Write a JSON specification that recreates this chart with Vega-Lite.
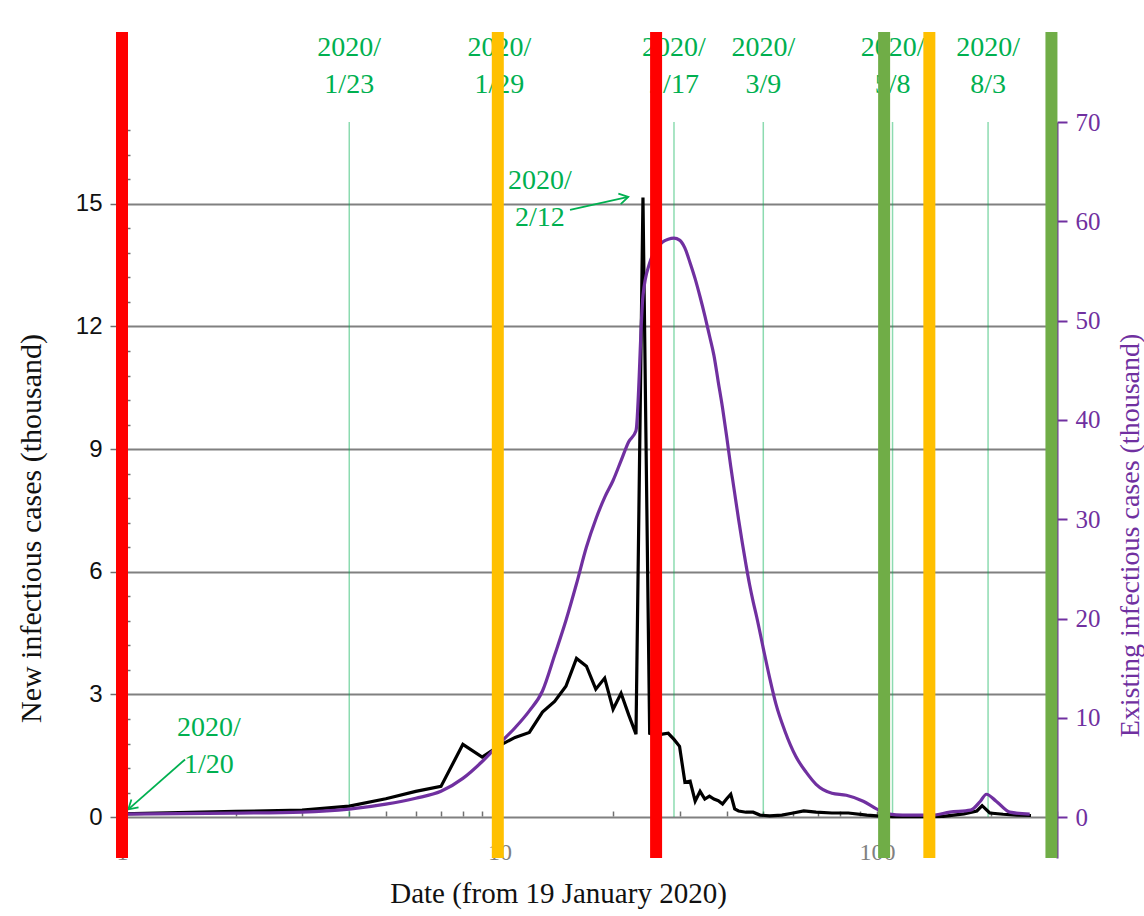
{
  "$schema": "https://vega.github.io/schema/vega-lite/v6.json",
  "width": 935,
  "height": 736,
  "autosize": {"type": "none"},
  "padding": {"left": 122, "top": 122, "right": 87, "bottom": 58},
  "background": "white",
  "config": {"view": {"stroke": null}, "font": "Liberation Serif"},
  "datasets": {
    "newCases": [
      {"day": 1, "cases": 0.08}, {"day": 2, "cases": 0.14}, {"day": 3, "cases": 0.17}, {"day": 4, "cases": 0.27},
      {"day": 5, "cases": 0.45}, {"day": 6, "cases": 0.63}, {"day": 7, "cases": 0.75}, {"day": 8, "cases": 1.78},
      {"day": 9, "cases": 1.47}, {"day": 10, "cases": 1.75}, {"day": 11, "cases": 1.95}, {"day": 12, "cases": 2.07},
      {"day": 13, "cases": 2.57}, {"day": 14, "cases": 2.83}, {"day": 15, "cases": 3.2}, {"day": 16, "cases": 3.88},
      {"day": 17, "cases": 3.69}, {"day": 18, "cases": 3.13}, {"day": 19, "cases": 3.4}, {"day": 20, "cases": 2.64},
      {"day": 21, "cases": 3.03}, {"day": 22, "cases": 2.5}, {"day": 23, "cases": 2.03}, {"day": 24, "cases": 15.15},
      {"day": 25, "cases": 2.05}, {"day": 26, "cases": 2.0}, {"day": 27, "cases": 2.03}, {"day": 28, "cases": 2.05},
      {"day": 29, "cases": 1.9}, {"day": 30, "cases": 1.73}, {"day": 31, "cases": 0.85}, {"day": 32, "cases": 0.88},
      {"day": 33, "cases": 0.39}, {"day": 34, "cases": 0.63}, {"day": 35, "cases": 0.44}, {"day": 36, "cases": 0.51},
      {"day": 37, "cases": 0.44}, {"day": 38, "cases": 0.4}, {"day": 39, "cases": 0.32}, {"day": 40, "cases": 0.45},
      {"day": 41, "cases": 0.56}, {"day": 42, "cases": 0.2}, {"day": 43, "cases": 0.15}, {"day": 45, "cases": 0.12},
      {"day": 47, "cases": 0.12}, {"day": 49, "cases": 0.05}, {"day": 52, "cases": 0.03}, {"day": 56, "cases": 0.05},
      {"day": 60, "cases": 0.1}, {"day": 64, "cases": 0.15}, {"day": 69, "cases": 0.12}, {"day": 76, "cases": 0.1},
      {"day": 84, "cases": 0.1}, {"day": 94, "cases": 0.05}, {"day": 100, "cases": 0.03}, {"day": 110, "cases": 0.01},
      {"day": 130, "cases": 0.01}, {"day": 150, "cases": 0.02}, {"day": 170, "cases": 0.08}, {"day": 184, "cases": 0.15},
      {"day": 190, "cases": 0.28}, {"day": 199, "cases": 0.1}, {"day": 216, "cases": 0.07}, {"day": 235, "cases": 0.05},
      {"day": 256, "cases": 0.04}
    ],
    "existing": [
      {"day": 1, "cases": 0.3}, {"day": 2, "cases": 0.4}, {"day": 3, "cases": 0.5}, {"day": 4, "cases": 0.8},
      {"day": 5, "cases": 1.3}, {"day": 6, "cases": 1.9}, {"day": 7, "cases": 2.6}, {"day": 8, "cases": 3.9},
      {"day": 9, "cases": 5.6}, {"day": 10, "cases": 7.4}, {"day": 11, "cases": 9.0}, {"day": 12, "cases": 10.7},
      {"day": 13, "cases": 12.7}, {"day": 14, "cases": 16.3}, {"day": 15, "cases": 19.8}, {"day": 16, "cases": 23.5},
      {"day": 17, "cases": 27.2}, {"day": 18, "cases": 30.0}, {"day": 19, "cases": 32.2}, {"day": 20, "cases": 33.9},
      {"day": 21, "cases": 35.9}, {"day": 22, "cases": 37.8}, {"day": 23, "cases": 38.9}, {"day": 24, "cases": 52.5},
      {"day": 25, "cases": 55.8}, {"day": 26, "cases": 57.2}, {"day": 27, "cases": 57.9}, {"day": 28, "cases": 58.2},
      {"day": 29, "cases": 58.3}, {"day": 30, "cases": 58.1}, {"day": 31, "cases": 57.3}, {"day": 32, "cases": 55.8},
      {"day": 33, "cases": 54.2}, {"day": 34, "cases": 52.4}, {"day": 35, "cases": 50.5}, {"day": 36, "cases": 48.5},
      {"day": 37, "cases": 46.5}, {"day": 38, "cases": 43.8}, {"day": 39, "cases": 41.2}, {"day": 40, "cases": 38.3},
      {"day": 41, "cases": 35.3}, {"day": 42, "cases": 32.6}, {"day": 43, "cases": 30.0}, {"day": 44, "cases": 27.6},
      {"day": 45, "cases": 25.4}, {"day": 46, "cases": 23.4}, {"day": 47, "cases": 21.7}, {"day": 48, "cases": 20.2},
      {"day": 50, "cases": 17.0}, {"day": 52, "cases": 14.0}, {"day": 54, "cases": 11.4}, {"day": 57, "cases": 8.7},
      {"day": 61, "cases": 6.1}, {"day": 65, "cases": 4.5}, {"day": 69, "cases": 3.3}, {"day": 76, "cases": 2.4},
      {"day": 83, "cases": 2.2}, {"day": 92, "cases": 1.6}, {"day": 100, "cases": 0.8}, {"day": 108, "cases": 0.3},
      {"day": 117, "cases": 0.2}, {"day": 140, "cases": 0.2}, {"day": 156, "cases": 0.5}, {"day": 177, "cases": 0.7},
      {"day": 188, "cases": 1.6}, {"day": 195, "cases": 2.3}, {"day": 207, "cases": 1.6}, {"day": 225, "cases": 0.5},
      {"day": 254, "cases": 0.3}
    ],
    "dates": [
      {"day": 4, "label": ["2020/", "1/23"]},
      {"day": 10, "label": ["2020/", "1/29"]},
      {"day": 29, "label": ["2020/", "2/17"]},
      {"day": 50, "label": ["2020/", "3/9"]},
      {"day": 110, "label": ["2020/", "5/8"]},
      {"day": 197, "label": ["2020/", "8/3"]}
    ],
    "notes": [
      {"id": "a", "day": 1.7, "cases": 2.17, "label": ["2020/", "1/20"], "fromDay": 1.469, "fromCases": 1.41, "toDay": 1.039, "toCases": 0.19},
      {"id": "b", "day": 12.8, "cases": 15.55, "label": ["2020/", "2/12"], "fromDay": 15.38, "fromCases": 14.85, "toDay": 21.94, "toCases": 15.17}
    ],
    "bars": [
      {"day": 1, "kind": "I"},
      {"day": 9.9, "kind": "II"},
      {"day": 26, "kind": "I"},
      {"day": 104.5, "kind": "III"},
      {"day": 137.7, "kind": "II"},
      {"day": 290, "kind": "III"}
    ]
  },
  "layer": [
    {
      "layer": [
        {
          "data": {"name": "dates"},
          "mark": {"type": "rule", "color": "#00B050", "opacity": 0.45, "strokeWidth": 1.5},
          "encoding": {
            "x": {
              "field": "day", "type": "quantitative",
              "scale": {"type": "log", "domain": [1, 300], "nice": false},
              "axis": {
                "title": "Date (from 19 January 2020)",
                "values": [1, 2, 3, 4, 5, 6, 7, 8, 9, 10, 20, 30, 40, 50, 60, 70, 80, 90, 100, 200, 300],
                "tickCount": 200,
                "labelExpr": "indexof([1,10,100], datum.value) >= 0 ? format(datum.value, 'd') : ''",
                "offset": -42,
                "domain": false,
                "grid": false,
                "ticks": true,
                "tickSize": -5,
                "tickColor": "#707070",
                "tickWidth": 1.5,
                "labelFont": "Liberation Serif",
                "labelFontSize": 24,
                "labelColor": "#808080",
                "labelPadding": 29,
                "labelBaseline": "top",
                "labelFlush": false,
                "labelOverlap": false,
                "titleFont": "Liberation Serif",
                "titleFontSize": 29,
                "titleFontWeight": "normal",
                "titleColor": "#111111",
                "titleX": 436,
                "titleY": 77,
                "titleBaseline": "middle",
                "titleAlign": "center"
              }
            },
            "y": {
              "datum": 0, "type": "quantitative",
              "scale": {"domain": [-1, 17], "nice": false, "zero": false},
              "axis": {
                "title": "New infectious cases (thousand)",
                "values": [0, 0.6, 1.2, 1.8, 2.4, 3, 3.6, 4.2, 4.8, 5.4, 6, 6.6, 7.2, 7.8, 8.4, 9, 9.6, 10.2, 10.8, 11.4, 12, 12.6, 13.2, 13.8, 14.4, 15, 15.6, 16.2, 16.8],
                "tickCount": 200,
                "labelExpr": "indexof([0,3,6,9,12,15], datum.value) >= 0 ? format(datum.value, 'd') : ''",
                "grid": true,
                "gridColor": "#808080",
                "gridWidth": 2,
                "gridOpacity": {"condition": {"test": "indexof([0,3,6,9,12,15], datum.value) >= 0", "value": 1}, "value": 0},
                "tickSize": {"condition": {"test": "indexof([0,3,6,9,12,15], datum.value) >= 0", "value": 12}, "value": -8},
                "tickColor": "#707070",
                "tickWidth": 1.5,
                "domain": true,
                "domainColor": "#707070",
                "labelFont": "Liberation Sans",
                "labelFontSize": 24,
                "labelColor": "#111111",
                "labelPadding": 8,
                "labelOverlap": false,
                "labelFlush": false,
                "titleFont": "Liberation Serif",
                "titleFontSize": 30,
                "titleFontWeight": "normal",
                "titleColor": "#111111",
                "titleAngle": 270,
                "titleX": -91,
                "titleY": 406,
                "titleBaseline": "middle",
                "titleAlign": "center"
              }
            },
            "y2": {"datum": 17}
          }
        },
        {
          "data": {"name": "newCases"},
          "mark": {"type": "line", "color": "#000000", "strokeWidth": 3.2, "strokeJoin": "miter"},
          "encoding": {
            "x": {"field": "day", "type": "quantitative"},
            "y": {"field": "cases", "type": "quantitative"}
          }
        },
        {
          "data": {"name": "dates"},
          "mark": {"type": "text", "font": "Liberation Serif", "fontSize": 28, "lineHeight": 37, "color": "#00B050", "align": "center", "baseline": "middle"},
          "encoding": {
            "x": {"field": "day", "type": "quantitative"},
            "y": {"datum": 18.8},
            "text": {"field": "label"}
          }
        },
        {
          "data": {"name": "notes"},
          "mark": {"type": "text", "font": "Liberation Serif", "fontSize": 28, "lineHeight": 37, "color": "#00B050", "align": "center", "baseline": "middle"},
          "encoding": {
            "x": {"field": "day", "type": "quantitative"},
            "y": {"field": "cases", "type": "quantitative"},
            "text": {"field": "label"}
          }
        },
        {
          "data": {"name": "notes"},
          "mark": {"type": "rule", "color": "#00B050", "strokeWidth": 1.8},
          "encoding": {
            "x": {"field": "fromDay", "type": "quantitative"},
            "y": {"field": "fromCases", "type": "quantitative"},
            "x2": {"field": "toDay"},
            "y2": {"field": "toCases"}
          }
        },
        {
          "data": {"name": "notes"},
          "transform": [{"filter": "datum.id === 'a'"}],
          "mark": {"type": "point", "shape": "M -0.6 1 L 0 0 L 0.6 1", "filled": false, "stroke": "#00B050", "strokeWidth": 1.8, "size": 320, "angle": 228.6, "opacity": 1},
          "encoding": {
            "x": {"field": "toDay", "type": "quantitative"},
            "y": {"field": "toCases", "type": "quantitative"}
          }
        },
        {
          "data": {"name": "notes"},
          "transform": [{"filter": "datum.id === 'b'"}],
          "mark": {"type": "point", "shape": "M -0.6 1 L 0 0 L 0.6 1", "filled": false, "stroke": "#00B050", "strokeWidth": 1.8, "size": 320, "angle": 77.2, "opacity": 1},
          "encoding": {
            "x": {"field": "toDay", "type": "quantitative"},
            "y": {"field": "toCases", "type": "quantitative"}
          }
        }
      ]
    },
    {
      "data": {"name": "existing"},
      "mark": {"type": "line", "color": "#7030A0", "strokeWidth": 3.2, "interpolate": "monotone"},
      "encoding": {
        "x": {"field": "day", "type": "quantitative"},
        "y": {
          "field": "cases", "type": "quantitative",
          "scale": {"domain": [-4.1176, 70], "nice": false, "zero": false},
          "axis": {
            "orient": "right",
            "title": "Existing infectious cases (thousand)",
            "values": [0, 10, 20, 30, 40, 50, 60, 70],
            "tickCount": 100,
            "grid": false,
            "domain": true,
            "domainColor": "#7030A0",
            "domainWidth": 2,
            "tickColor": "#7030A0",
            "tickSize": 10,
            "tickWidth": 2,
            "labelFont": "Liberation Serif",
            "labelFontSize": 25,
            "labelColor": "#7030A0",
            "labelPadding": 8,
            "labelFlush": false,
            "labelOverlap": false,
            "titleFont": "Liberation Serif",
            "titleFontSize": 28,
            "titleFontWeight": "normal",
            "titleColor": "#7030A0",
            "titleAngle": 270,
            "titleX": 73,
            "titleY": 413,
            "titleBaseline": "middle",
            "titleAlign": "center"
          }
        }
      }
    },
    {
      "data": {"name": "bars"},
      "mark": {"type": "rule", "strokeWidth": 12},
      "encoding": {
        "x": {"field": "day", "type": "quantitative"},
        "y": {"datum": -1, "type": "quantitative", "scale": {"domain": [-1, 17], "nice": false, "zero": false}, "axis": null},
        "y2": {"datum": 19.2},
        "color": {
          "field": "kind", "type": "nominal",
          "scale": {"domain": ["I", "II", "III"], "range": ["#FF0000", "#FFC000", "#70AD47"]},
          "legend": null
        }
      }
    }
  ],
  "resolve": {"scale": {"y": "independent"}}
}
